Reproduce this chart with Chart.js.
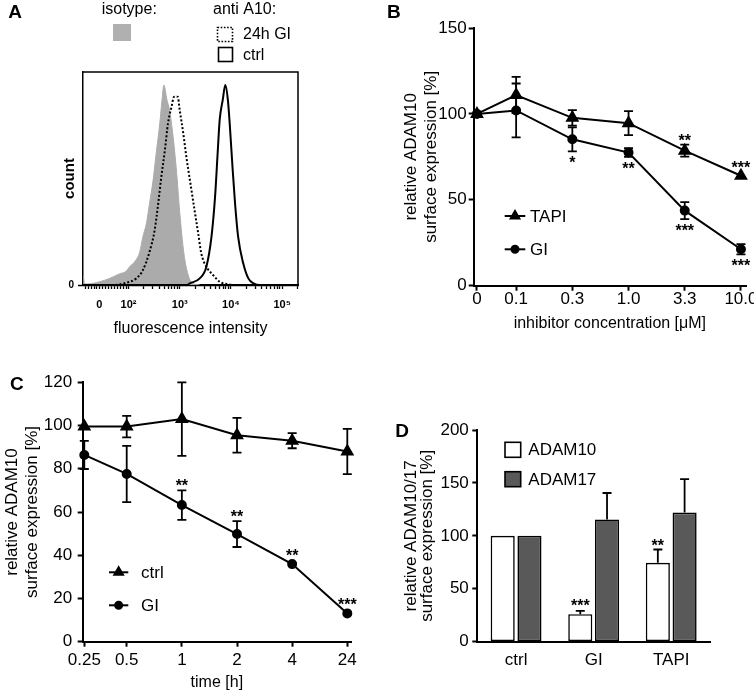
<!DOCTYPE html>
<html>
<head>
<meta charset="utf-8">
<title>ADAM10 surface expression</title>
<script src="https://cdn.jsdelivr.net/npm/chart.js"></script>
<style>
  body { margin: 0; background: #fff; }
  .panel { position: absolute; }
</style>
</head>
<body>
<div class="panel" style="left:0;top:0"><canvas id="chartA" width="377" height="345"></canvas></div>
<div class="panel" style="left:377px;top:0"><canvas id="chartB" width="377" height="345"></canvas></div>
<div class="panel" style="left:0;top:345px"><canvas id="chartC" width="377" height="350"></canvas></div>
<div class="panel" style="left:377px;top:345px"><canvas id="chartD" width="377" height="350"></canvas></div>

<script>
// ---- A: flow cytometry histograms, x in decades of fluorescence, y in % of max count
const isoX  = [1.12, 1.14, 1.20, 1.43, 1.63, 1.82, 1.96, 2.02, 2.12, 2.22, 2.28, 2.35, 2.41, 2.48, 2.54, 2.61, 2.66, 2.69, 2.75, 2.80, 2.87, 2.94, 3.00, 3.08, 3.16, 3.24, 3.39];
const isoY  = [4, 0.5, 0.5, 1.5, 3.1, 5.2, 6.6, 8.6, 10.9, 15.6, 22.7, 29, 38.4, 49.3, 61.8, 75.9, 88.4, 93.9, 86.9, 82.2, 69.6, 52.4, 34, 15, 5, 1, 0];
const gi24X = [1.12, 1.69, 1.96, 2.15, 2.28, 2.41, 2.51, 2.58, 2.64, 2.71, 2.77, 2.84, 2.89, 2.96, 3.00, 3.07, 3.13, 3.20, 3.29, 3.36, 3.42, 3.52, 3.65, 3.78, 3.95, 4.08, 5.31];
const gi24Y = [0, 0, 1.1, 3.1, 7, 15.6, 25.8, 38.4, 50.8, 63.4, 75.9, 83.7, 88.4, 88.4, 82, 71, 60, 49, 35, 24.3, 14.9, 8.6, 4.7, 1.5, 0.3, 0, 0];
const ctrlX = [1.12, 3.13, 3.20, 3.39, 3.52, 3.62, 3.69, 3.74, 3.78, 3.84, 3.89, 3.94, 3.98, 4.03, 4.08, 4.14, 4.24, 4.34, 4.44, 4.57, 5.31];
const ctrlY = [0, 0, 0.8, 3.1, 8.6, 22.7, 41.5, 61.8, 77.5, 86.9, 93.9, 86.9, 74.3, 55.5, 38.4, 22.7, 10.2, 3.1, 0.8, 0, 0];
const fluoTickPos = [1.43, 2, 3, 4, 5];
const fluoTickLabels = ['0', '10\u00b2', '10\u00b3', '10\u2074', '10\u2075'];
const fluoMinorPos = [1.16, 1.22, 1.28, 1.34, 1.38, 1.49, 1.55, 1.61, 1.67, 1.73, 1.79, 1.85, 1.91, 1.96];

// ---- B: dose response
const concLabels = ['0', '0.1', '0.3', '1.0', '3.3', '10.0'];
const concPos = [-0.697, 0, 1, 2, 3, 4];
const tapiMean = [100, 111, 97.7, 94.6, 78.6, 64];
const tapiErr = [0, 10.5, 4.5, 7, 3.5, 1];
const tapiStars = ['', '', '', '', '**', '***'];
const giMean = [100, 102, 85.2, 77.5, 43.7, 21.2];
const giErr = [0, 15.7, 7, 2.5, 5, 3];
const giStars = ['', '', '*', '**', '***', '***'];

// ---- C: time course
const timeLabels = ['0.25', '0.5', '1', '2', '4', '24'];
const timePos = [0.231, 1, 2, 3, 4, 5];
const ctrlTimeMean = [99.5, 99.5, 103, 95.5, 93, 88];
const ctrlTimeErr = [0, 5, 17, 8, 3.5, 10.5];
const giTimeMean = [86.4, 77.6, 63.2, 49.8, 35.9, 13.1];
const giTimeErr = [6.5, 13, 6.8, 6, 0.5, 0.5];
const giTimeStars = ['', '', '**', '**', '**', '***'];

// ---- D: ADAM10 vs ADAM17
const treatLabels = ['ctrl', 'GI', 'TAPI'];
const adam10Mean = [100, 26, 74.5];
const adam10Err = [0, 3.2, 12.6];
const adam10Stars = ['', '***', '**'];
const adam17Mean = [100, 115.5, 122];
const adam17Err = [0, 25, 31.5];

Chart.defaults.font.family = '"Liberation Sans", Arial, sans-serif';
Chart.defaults.color = '#000';

function fixSize(size) {
  return function (scale) {
    if (scale.isHorizontal()) scale.height = size; else scale.width = size;
    scale.paddingLeft = scale.paddingRight = scale.paddingTop = scale.paddingBottom = 0;
  };
}
function pts(xs, ys) { return xs.map((x, i) => ({ x: x, y: ys[i] })); }

// error bars (+ optional significance stars) drawn through the y scale
function errorPlugin(sets) {
  return {
    id: 'errorBars',
    afterDatasetsDraw(chart) {
      const ctx = chart.ctx, ys = chart.scales.y;
      ctx.save();
      ctx.strokeStyle = '#000';
      ctx.lineWidth = 1.8;
      sets.forEach(s => {
        const meta = chart.getDatasetMeta(s.dataset);
        meta.data.forEach((el, i) => {
          const v = s.mean[i], e = s.err[i];
          const top = ys.getPixelForValue(v + e);
          const bot = s.upOnly ? el.y : ys.getPixelForValue(v - e);
          if (e > 1.2) {
            ctx.beginPath();
            ctx.moveTo(el.x, top); ctx.lineTo(el.x, bot);
            ctx.moveTo(el.x - s.cap, top); ctx.lineTo(el.x + s.cap, top);
            if (!s.upOnly) { ctx.moveTo(el.x - s.cap, bot); ctx.lineTo(el.x + s.cap, bot); }
            ctx.stroke();
          }
          if (s.stars && s.stars[i]) {
            ctx.fillStyle = '#000';
            ctx.font = 'bold 16px "Liberation Sans", Arial, sans-serif';
            ctx.textAlign = 'center';
            ctx.textBaseline = 'alphabetic';
            let c;
            if (s.side === 'below') c = Math.max(bot, el.y + 4) + 8;
            else c = Math.min(top, el.y - 4) - 8;
            ctx.fillText(s.stars[i], el.x, c + 9);
          }
        });
      });
      ctx.restore();
    }
  };
}

function lineLegendPlugin(items) {
  return {
    id: 'lineLegend',
    afterDraw(chart) {
      const ctx = chart.ctx;
      ctx.save();
      items.forEach(it => {
        ctx.strokeStyle = '#000'; ctx.fillStyle = '#000'; ctx.lineWidth = 2;
        ctx.beginPath(); ctx.moveTo(it.x1, it.y); ctx.lineTo(it.x2, it.y); ctx.stroke();
        Chart.helpers.drawPoint(ctx, { pointStyle: it.style, radius: it.r, borderWidth: 1, rotation: 0 }, (it.x1 + it.x2) / 2, it.y);
        ctx.font = '17px "Liberation Sans", Arial, sans-serif';
        ctx.textAlign = 'left'; ctx.textBaseline = 'middle';
        ctx.fillText(it.text, it.tx, it.y + 1);
      });
      ctx.restore();
    }
  };
}

function textPlugin(draw) {
  return { id: 'decor', afterDraw(chart) { const ctx = chart.ctx; ctx.save(); draw(ctx, chart); ctx.restore(); } };
}
function letter(ctx, t, x, y) {
  ctx.fillStyle = '#000';
  ctx.font = 'bold 19px "Liberation Sans", Arial, sans-serif';
  ctx.textAlign = 'left'; ctx.textBaseline = 'alphabetic';
  ctx.fillText(t, x, y);
}

const tickFont = { size: 17, lineHeight: 1 };
const titleFont = { size: 16 };
const yTitleFont = { size: 17, lineHeight: 1.15 };

// ================= A =================
new Chart(document.getElementById('chartA'), {
  type: 'line',
  data: {
    datasets: [
      { data: pts(ctrlX, ctrlY), borderColor: '#000', borderWidth: 2, pointRadius: 0, cubicInterpolationMode: 'monotone', fill: false, order: 1 },
      { data: pts(gi24X, gi24Y), borderColor: '#000', borderWidth: 2, borderDash: [2, 2], pointRadius: 0, cubicInterpolationMode: 'monotone', fill: false, order: 2 },
      { data: pts(isoX, isoY), borderColor: '#ababab', backgroundColor: '#ababab', borderWidth: 1, pointRadius: 0, cubicInterpolationMode: 'monotone', fill: 'origin', order: 3 }
    ]
  },
  options: {
    responsive: false, animation: false, devicePixelRatio: 1,
    layout: { padding: { left: 0, right: 79, top: 72, bottom: 0 } },
    plugins: { legend: { display: false }, tooltip: { enabled: false } },
    scales: {
      x: {
        type: 'linear', min: 1.11, max: 5.31,
        afterFit: fixSize(60),
        afterBuildTicks: s => {
          const minor = fluoMinorPos.slice();
          [2, 3, 4].forEach(d => { for (let k = 2; k <= 9; k++) minor.push(d + Math.log10(k)); });
          minor.push(5 + Math.log10(2));
          s.ticks = fluoTickPos.concat(minor).sort((a, b) => a - b).map(v => ({ value: v }));
        },
        ticks: {
          autoSkip: false, maxRotation: 0, padding: 10,
          font: { size: 11, weight: 'bold', lineHeight: 1 },
          callback: v => { const i = fluoTickPos.indexOf(v); return i >= 0 ? fluoTickLabels[i] : ''; }
        },
        grid: { drawOnChartArea: false, tickLength: 4, tickWidth: 1.3, tickColor: '#000' },
        border: { color: '#000', width: 2.2 },
        title: { display: true, text: 'fluorescence intensity', font: titleFont, padding: { top: 0, bottom: 7 } }
      },
      y: {
        min: 0, max: 100,
        afterFit: fixSize(83),
        afterBuildTicks: s => { s.ticks = [{ value: 0 }]; },
        ticks: { padding: 4, font: { size: 10, weight: 'bold' } },
        grid: { drawOnChartArea: false, tickLength: 5, tickWidth: 1.5, tickColor: '#000' },
        border: { color: '#000', width: 1.5 },
        title: { display: true, text: 'count', font: { size: 15, weight: 'bold' }, padding: { top: 61 } }
      }
    }
  },
  plugins: [textPlugin((ctx, chart) => {
    const a = chart.chartArea;
    ctx.strokeStyle = '#000'; ctx.lineWidth = 1.5;
    ctx.beginPath(); ctx.moveTo(a.left, a.top); ctx.lineTo(a.right, a.top); ctx.lineTo(a.right, a.bottom); ctx.stroke();
    letter(ctx, 'A', 8.3, 18.3);
    ctx.font = '16px "Liberation Sans", Arial, sans-serif';
    ctx.fillStyle = '#000'; ctx.textAlign = 'left'; ctx.textBaseline = 'alphabetic';
    ctx.fillText('isotype:', 101.7, 13.5);
    ctx.fillText('anti A10:', 213, 13.5);
    ctx.fillText('24h GI', 243, 39);
    ctx.fillText('ctrl', 243, 60);
    ctx.fillStyle = '#b0b0b0'; ctx.fillRect(113, 24, 18, 17);
    ctx.lineWidth = 1.6; ctx.strokeStyle = '#000';
    ctx.setLineDash([1.6, 1.6]); ctx.strokeRect(217.5, 27.5, 15, 14);
    ctx.setLineDash([]); ctx.strokeRect(218.5, 47.5, 14, 14);
  })]
});

// ================= B =================
new Chart(document.getElementById('chartB'), {
  type: 'line',
  data: {
    datasets: [
      { data: pts(concPos, tapiMean), borderColor: '#000', backgroundColor: '#000', borderWidth: 2, pointStyle: 'triangle', pointRadius: 6, clip: false },
      { data: pts(concPos, giMean), borderColor: '#000', backgroundColor: '#000', borderWidth: 2, pointStyle: 'circle', pointRadius: 4, clip: false }
    ]
  },
  options: {
    responsive: false, animation: false, devicePixelRatio: 1,
    layout: { padding: { left: 0, right: 7, top: 28, bottom: 0 } },
    plugins: { legend: { display: false }, tooltip: { enabled: false } },
    scales: {
      x: {
        type: 'linear', min: -0.755, max: 4.09,
        afterFit: fixSize(59.3),
        afterBuildTicks: s => { s.ticks = concPos.map(v => ({ value: v })); },
        ticks: { autoSkip: false, maxRotation: 0, padding: 0, font: tickFont, callback: (v, i) => concLabels[i] },
        grid: { drawOnChartArea: false, tickLength: 5, tickWidth: 2, tickColor: '#000' },
        border: { color: '#000', width: 2 },
        title: { display: true, text: 'inhibitor concentration [\u03bcM]', font: titleFont, padding: { top: 0, bottom: 11.4 } }
      },
      y: {
        min: 0, max: 150,
        afterFit: fixSize(96.7),
        ticks: { stepSize: 50, padding: 2, font: tickFont },
        grid: { drawOnChartArea: false, tickLength: 5, tickWidth: 2, tickColor: '#000' },
        border: { color: '#000', width: 2 },
        title: { display: true, text: ['relative ADAM10', 'surface expression [%]'], font: yTitleFont, padding: { top: 25 } }
      }
    }
  },
  plugins: [
    errorPlugin([
      { dataset: 0, mean: tapiMean, err: tapiErr, cap: 4.5, stars: tapiStars, side: 'above' },
      { dataset: 1, mean: giMean, err: giErr, cap: 4.5, stars: giStars, side: 'below' }
    ]),
    lineLegendPlugin([
      { x1: 127.7, x2: 148.3, y: 216, style: 'triangle', r: 5, text: 'TAPI', tx: 153 },
      { x1: 127.7, x2: 148.3, y: 249.3, style: 'circle', r: 3.5, text: 'GI', tx: 153 }
    ]),
    textPlugin(ctx => letter(ctx, 'B', 10, 18.3))
  ]
});

// ================= C =================
new Chart(document.getElementById('chartC'), {
  type: 'line',
  data: {
    datasets: [
      { data: pts(timePos, ctrlTimeMean), borderColor: '#000', backgroundColor: '#000', borderWidth: 2, pointStyle: 'triangle', pointRadius: 6, clip: false },
      { data: pts(timePos, giTimeMean), borderColor: '#000', backgroundColor: '#000', borderWidth: 2, pointStyle: 'circle', pointRadius: 4, clip: false }
    ]
  },
  options: {
    responsive: false, animation: false, devicePixelRatio: 1,
    layout: { padding: { left: 0, right: 26, top: 37.3, bottom: 0 } },
    plugins: { legend: { display: false }, tooltip: { enabled: false } },
    scales: {
      x: {
        type: 'linear', min: 0.202, max: 5.067,
        afterFit: fixSize(53.3),
        afterBuildTicks: s => { s.ticks = timePos.map(v => ({ value: v })); },
        ticks: { autoSkip: false, maxRotation: 0, padding: 4.8, font: tickFont, callback: (v, i) => timeLabels[i] },
        grid: { drawOnChartArea: false, tickLength: 5, tickWidth: 2, tickColor: '#000' },
        border: { color: '#000', width: 2 },
        title: { display: true, text: 'time [h]', font: titleFont, padding: { top: 0, bottom: 2.7 } }
      },
      y: {
        min: 0, max: 120,
        afterFit: fixSize(82.7),
        ticks: { stepSize: 20, padding: 5.5, font: tickFont },
        grid: { drawOnChartArea: false, tickLength: 5, tickWidth: 2, tickColor: '#000' },
        border: { color: '#000', width: 2 },
        title: { display: true, text: ['relative ADAM10', 'surface expression [%]'], font: yTitleFont, padding: { top: 2.7 } }
      }
    }
  },
  plugins: [
    errorPlugin([
      { dataset: 0, mean: ctrlTimeMean, err: ctrlTimeErr, cap: 4.5 },
      { dataset: 1, mean: giTimeMean, err: giTimeErr, cap: 4.5, stars: giTimeStars, side: 'above' }
    ]),
    lineLegendPlugin([
      { x1: 109, x2: 128.3, y: 227.3, style: 'triangle', r: 5, text: 'ctrl', tx: 141 },
      { x1: 109, x2: 128.3, y: 260.3, style: 'circle', r: 3.5, text: 'GI', tx: 141 }
    ]),
    textPlugin(ctx => letter(ctx, 'C', 10, 45))
  ]
});

// ================= D =================
new Chart(document.getElementById('chartD'), {
  type: 'bar',
  data: {
    labels: treatLabels,
    datasets: [
      { data: adam10Mean, backgroundColor: '#fff', borderColor: '#000', borderWidth: 1.6, borderSkipped: false, categoryPercentage: 0.69, barPercentage: 0.9 },
      { data: adam17Mean, backgroundColor: '#595959', borderColor: '#000', borderWidth: 1.6, borderSkipped: false, categoryPercentage: 0.69, barPercentage: 0.9 }
    ]
  },
  options: {
    responsive: false, animation: false, devicePixelRatio: 1,
    layout: { padding: { left: 0, right: 44, top: 85, bottom: 0 } },
    plugins: { legend: { display: false }, tooltip: { enabled: false } },
    scales: {
      x: {
        afterFit: fixSize(53.3),
        ticks: { padding: 8, font: { size: 17 } },
        grid: { drawOnChartArea: false, drawTicks: false },
        border: { color: '#000', width: 2 }
      },
      y: {
        min: 0, max: 200,
        afterFit: fixSize(100.3),
        ticks: { stepSize: 50, padding: 3.5, font: tickFont },
        grid: { drawOnChartArea: false, tickLength: 5, tickWidth: 2, tickColor: '#000' },
        border: { color: '#000', width: 2 },
        title: { display: true, text: ['relative ADAM10/17', 'surface expression [%]'], font: { size: 17, lineHeight: 0.95 }, padding: { top: 26 } }
      }
    }
  },
  plugins: [
    errorPlugin([
      { dataset: 0, mean: adam10Mean, err: adam10Err, cap: 4.5, upOnly: true, stars: adam10Stars, side: 'above' },
      { dataset: 1, mean: adam17Mean, err: adam17Err, cap: 4.5, upOnly: true }
    ]),
    textPlugin(ctx => {
      letter(ctx, 'D', 18.3, 91.7);
      ctx.lineWidth = 1.6; ctx.strokeStyle = '#000';
      ctx.fillStyle = '#fff'; ctx.fillRect(128, 97.3, 15.7, 15); ctx.strokeRect(128, 97.3, 15.7, 15);
      ctx.fillStyle = '#595959'; ctx.fillRect(128, 126.7, 15.7, 15); ctx.strokeRect(128, 126.7, 15.7, 15);
      ctx.fillStyle = '#000';
      ctx.font = '17px "Liberation Sans", Arial, sans-serif';
      ctx.textAlign = 'left'; ctx.textBaseline = 'middle';
      ctx.fillText('ADAM10', 151.3, 105.5);
      ctx.fillText('ADAM17', 151.3, 135.5);
    })
  ]
});
</script>
</body>
</html>
